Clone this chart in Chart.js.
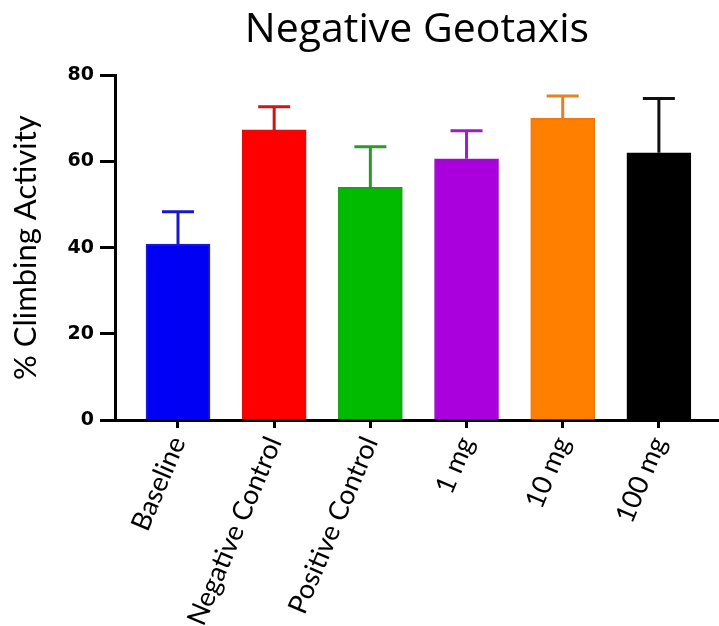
<!DOCTYPE html>
<html>
<head>
<meta charset="utf-8">
<script src="https://cdn.jsdelivr.net/npm/chart.js@4/dist/chart.umd.min.js"></script>
<style>
  html, body { margin: 0; padding: 0; background: #ffffff; }
  #wrap { width: 719px; height: 626px; position: relative; }
</style>
</head>
<body>
<div id="wrap"><canvas id="c" width="719" height="626"></canvas></div>
<script>
// Groups and mean climbing activity (%) with SEM
const categories = ['Baseline', 'Negative Control', 'Positive Control', '1 mg', '10 mg', '100 mg'];
const climbing = [40.8, 67.3, 54.0, 60.6, 70.0, 62.0];
const sem = [7.5, 5.4, 9.4, 6.5, 5.2, 12.6];
const yTicks = [0, 20, 40, 60, 80];

const barColors = ['#0000f5', '#ff0000', '#00bb00', '#aa00dd', '#ff8000', '#000000'];
const edgeColors = ['#1a1ad0', '#d81010', '#1aa01a', '#9a10c8', '#ee7a10', '#000000'];
const errColors = ['#1818c8', '#c81818', '#2a9a2a', '#9a20c4', '#e08424', '#101010'];

// Error bars (mean + SEM) drawn through the chart scales
const errorBars = {
  id: 'errorBars',
  afterDatasetsDraw(chart) {
    const { ctx } = chart;
    const xs = chart.scales.x, ys = chart.scales.y;
    ctx.save();
    ctx.lineWidth = 3;
    ctx.lineCap = 'butt';
    climbing.forEach((v, i) => {
      const x = xs.getPixelForValue(i);
      const y0 = ys.getPixelForValue(v);
      const y1 = ys.getPixelForValue(v + sem[i]);
      ctx.strokeStyle = errColors[i];
      ctx.beginPath();
      ctx.moveTo(x, y0);
      ctx.lineTo(x, y1);
      ctx.moveTo(x - 16, y1);
      ctx.lineTo(x + 16, y1);
      ctx.stroke();
    });
    ctx.restore();
  }
};

new Chart(document.getElementById('c'), {
  type: 'bar',
  data: {
    datasets: [{
      data: climbing.map((v, i) => ({ x: i, y: v })),
      backgroundColor: barColors,
      borderColor: edgeColors,
      borderWidth: 2,
      borderSkipped: 'bottom',
      barThickness: 64
    }]
  },
  options: {
    responsive: false,
    animation: false,
    devicePixelRatio: 1,
    layout: { padding: { left: 0, right: 0, top: 0, bottom: 0 } },
    plugins: {
      legend: { display: false },
      tooltip: { enabled: false },
      title: {
        display: true,
        fullSize: false,
        text: 'Negative Geotaxis',
        color: '#000000',
        font: { family: 'Open Sans', size: 41, weight: 'normal' },
        padding: { top: 6, bottom: 20 }
      }
    },
    scales: {
      x: {
        type: 'linear',
        offset: false,
        min: -0.655,
        max: 5.625,
        afterFit(scale) { scale.height = 206; },
        border: { display: true, color: '#000000', width: 3 },
        grid: {
          display: true,
          offset: false,
          drawOnChartArea: false,
          drawTicks: true,
          tickLength: 8,
          tickWidth: 3,
          tickColor: '#000000'
        },
        ticks: {
          stepSize: 1,
          includeBounds: false,
          autoSkip: false,
          minRotation: 67,
          maxRotation: 67,
          padding: 4,
          color: '#000000',
          font: { family: 'Lato', size: 27 },
          callback: (v) => Number.isInteger(v) ? (categories[v] ?? '') : ''
        }
      },
      y: {
        min: 0,
        max: 80,
        afterFit(scale) { scale.width = 115; },
        afterBuildTicks(scale) { scale.ticks = yTicks.map(v => ({ value: v })); },
        border: { display: true, color: '#000000', width: 3 },
        grid: {
          display: true,
          drawOnChartArea: false,
          drawTicks: true,
          tickLength: 15,
          tickWidth: 3,
          tickColor: '#000000'
        },
        ticks: {
          padding: 6,
          color: '#000000',
          font: { family: 'DejaVu Sans', size: 19, weight: 'bold' }
        },
        title: {
          display: true,
          text: '% Climbing Activity',
          color: '#000000',
          font: { family: 'Lato', size: 31, weight: 'normal' },
          padding: { top: 7, bottom: 0 }
        }
      }
    }
  },
  plugins: [errorBars]
});
</script>
</body>
</html>
